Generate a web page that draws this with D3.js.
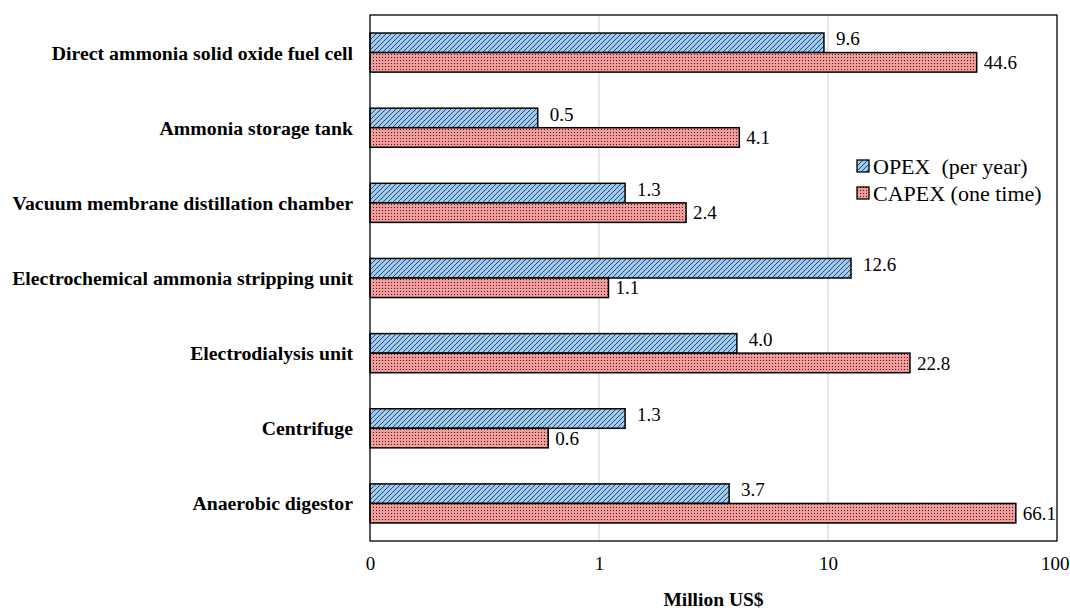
<!DOCTYPE html>
<html>
<head>
<meta charset="utf-8">
<script src="https://cdn.jsdelivr.net/npm/d3@7"></script>
<style>
  body { margin: 0; background: #fff; }
  text { font-family: "Liberation Serif", "Times New Roman", serif; }
  .cat-label { font-weight: bold; font-size: 19.8px; }
  .val-label { font-size: 19px; }
  .x-title { font-weight: bold; font-size: 19.5px; }
  .legend-text { font-size: 22px; white-space: pre; }
</style>
</head>
<body>
<div id="chart"></div>
<script>
const categories = [
  'Direct ammonia solid oxide fuel cell',
  'Ammonia storage tank',
  'Vacuum membrane distillation chamber',
  'Electrochemical ammonia stripping unit',
  'Electrodialysis unit',
  'Centrifuge',
  'Anaerobic digestor',
];
const opexValues = [9.6, 0.54, 1.3, 12.6, 4.0, 1.3, 3.7];
const capexValues = [44.6, 4.1, 2.4, 1.1, 22.8, 0.6, 66.1];
const seriesNames = ['OPEX  (per year)', 'CAPEX (one time)'];
const tickValues = [0.1, 1, 10, 100];
const tickLabels = ['0', '1', '10', '100'];

const width = 1070;
const height = 610;
const margin = { top: 15, right: 13, bottom: 69, left: 370 };
const innerW = width - margin.left - margin.right;
const innerH = height - margin.top - margin.bottom;

const svg = d3.select('#chart')
  .append('svg')
  .attr('width', width)
  .attr('height', height);

// fill patterns
const defs = svg.append('defs');
const stripe = defs.append('pattern')
  .attr('id', 'opex-pat')
  .attr('patternUnits', 'userSpaceOnUse')
  .attr('width', 5)
  .attr('height', 5);
stripe.append('rect').attr('width', 5).attr('height', 5).attr('fill', '#9ecbf3');
stripe.append('path')
  .attr('d', 'M-1,1 l2,-2 M0,5 l5,-5 M4,6 l2,-2')
  .attr('stroke', '#24364a')
  .attr('stroke-width', 0.9);

const dots = defs.append('pattern')
  .attr('id', 'capex-pat')
  .attr('patternUnits', 'userSpaceOnUse')
  .attr('width', 3)
  .attr('height', 3);
dots.append('rect').attr('width', 3).attr('height', 3).attr('fill', '#f29c9c');
dots.append('rect').attr('width', 1).attr('height', 1).attr('fill', '#3d1a1a');

const g = svg.append('g')
  .attr('transform', `translate(${margin.left},${margin.top})`);

const xScale = d3.scaleLog()
  .domain([0.1, 100])
  .range([0, innerW]);

const yScale = d3.scaleBand()
  .domain(categories)
  .range([0, innerH])
  .paddingInner(0.48)
  .paddingOuter(0.24);

const barH = yScale.bandwidth() / 2;

// gridlines
g.append('g')
  .selectAll('line')
  .data(tickValues.slice(1, -1))
  .enter().append('line')
  .attr('x1', (d) => xScale(d))
  .attr('x2', (d) => xScale(d))
  .attr('y1', 0)
  .attr('y2', innerH)
  .attr('stroke', '#d9d9d9')
  .attr('stroke-width', 1.3);

const series = [
  { name: seriesNames[0], values: opexValues, fill: 'url(#opex-pat)', off: 0 },
  { name: seriesNames[1], values: capexValues, fill: 'url(#capex-pat)', off: 1 },
];

series.forEach((s) => {
  g.append('g')
    .selectAll('rect')
    .data(categories)
    .enter().append('rect')
    .attr('x', 0)
    .attr('y', (d) => yScale(d) + s.off * barH)
    .attr('width', (d, i) => xScale(s.values[i]) - xScale(0.1))
    .attr('height', barH)
    .attr('fill', s.fill)
    .attr('stroke', '#000')
    .attr('stroke-width', 1.5);

  g.append('g')
    .selectAll('text')
    .data(categories)
    .enter().append('text')
    .attr('class', 'val-label')
    .attr('x', (d, i) => xScale(s.values[i]) + (s.off ? 7 : 12))
    .attr('y', (d) => yScale(d) + s.off * barH + barH / 2 - (s.off ? 0 : 4))
    .attr('dy', '0.35em')
    .text((d, i) => s.values[i].toFixed(1));
});

// frame
g.append('rect')
  .attr('width', innerW)
  .attr('height', innerH)
  .attr('fill', 'none')
  .attr('stroke', '#000')
  .attr('stroke-width', 1.3);

// y labels
g.append('g')
  .selectAll('text')
  .data(categories)
  .enter().append('text')
  .attr('class', 'cat-label')
  .attr('x', -17)
  .attr('y', (d) => yScale(d) + barH)
  .attr('dy', '0.35em')
  .attr('text-anchor', 'end')
  .text((d) => d);

// x axis
const xAxis = g.append('g')
  .attr('transform', `translate(0,${innerH})`)
  .call(d3.axisBottom(xScale)
    .tickValues(tickValues)
    .tickSize(0)
    .tickPadding(16)
    .tickFormat((d, i) => tickLabels[i]));
xAxis.select('.domain').remove();
xAxis.selectAll('text')
  .attr('fill', '#000')
  .style('font-family', '"Liberation Serif", serif')
  .style('font-size', '19px');
// last label sits against the page edge, keep it inside
xAxis.selectAll('.tick')
  .filter((d) => d === tickValues[tickValues.length - 1])
  .select('text')
  .attr('text-anchor', 'end')
  .attr('x', margin.right - 1);

svg.append('text')
  .attr('class', 'x-title')
  .attr('text-anchor', 'middle')
  .attr('x', margin.left + innerW / 2)
  .attr('y', 606)
  .text('Million US$');

// legend
const legend = svg.append('g')
  .attr('transform', 'translate(857,166)');
series.forEach((s, i) => {
  const row = legend.append('g').attr('transform', `translate(0,${i * 27})`);
  row.append('rect')
    .attr('x', 0)
    .attr('y', -6)
    .attr('width', 12)
    .attr('height', 12)
    .attr('fill', s.fill)
    .attr('stroke', '#000')
    .attr('stroke-width', 1.3);
  row.append('text')
    .attr('class', 'legend-text')
    .attr('x', 16)
    .attr('dy', '0.35em')
    .text(s.name);
});
</script>
</body>
</html>
